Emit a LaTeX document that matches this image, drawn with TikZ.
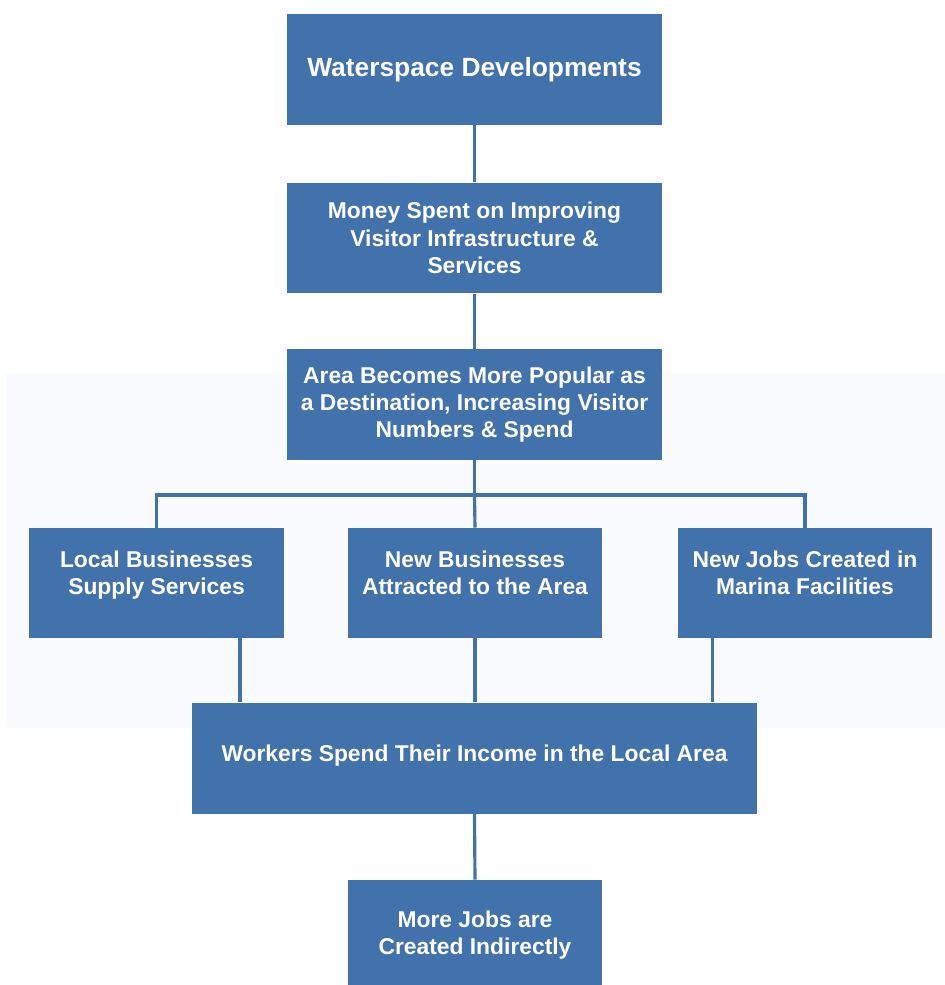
\documentclass[tikz,border=0pt]{standalone}
\usepackage{fontspec}
\setmainfont{Liberation Sans}
\usepackage{xcolor}
\usepackage{tikz}
\usetikzlibrary{positioning, calc}

\definecolor{boxblue}{RGB}{66,114,172}
\definecolor{tintbg}{RGB}{249,251,254}

\begin{document}
\begin{tikzpicture}[
  x=0.02cm, y=-0.02cm,
  stagebox/.style={fill=boxblue, text=white, align=center, inner sep=0pt,
    font=\fontsize{13}{15.6}\selectfont\bfseries, minimum height=2.22cm},
  effectbox/.style={stagebox, minimum width=5.08cm, minimum height=2.2cm, text depth=12pt},
  link/.style={draw=boxblue, line width=1.8pt},
]
  \useasboundingbox (0,0) rectangle (945,985);

  % ── Faint backdrop ──
  \fill[tintbg] (6,372) rectangle (945,728);

  % ── Top chain ──
  \node[stagebox, minimum width=7.5cm, font=\fontsize{15}{18}\selectfont\bfseries] (water) at (474.5,69.5) {Waterspace Developments};
  \node[stagebox, minimum width=7.5cm] (money) at (474.5,238) {Money Spent on Improving\\Visitor Infrastructure \&\\Services};
  \node[stagebox, minimum width=7.5cm] (area) at (474.5,404.5) {Area Becomes More Popular as\\a Destination, Increasing Visitor\\Numbers \& Spend};

  % ── Three effects ──
  \node[effectbox, minimum width=5.1cm] (local) at (156.5,583) {Local Businesses\\Supply Services};
  \node[effectbox] (business) at (475,583) {New Businesses\\Attracted to the Area};
  \node[effectbox] (jobs) at (805,583) {New Jobs Created in\\Marina Facilities};

  % ── Bottom chain ──
  \node[stagebox, minimum width=11.3cm, text depth=6pt] (workers) at (474.5,758) {Workers Spend Their Income in the Local Area};
  \node[stagebox, minimum width=5.08cm, minimum height=2.2cm] (more) at (475,935) {More Jobs are\\Created Indirectly};

  % ── Connectors ──
  \coordinate (bar) at (474.5,495);
  \coordinate (lout) at (240,670);
  \coordinate (jout) at (712.5,670);
  \draw[link] (water.south) -- (money.north);
  \draw[link] (money.south) -- (area.north);
  \draw[link] (area.south) -- (bar);
  \draw[link] (local.north) |- (bar) -| (jobs.north);
  \draw[link] (bar) -- (business.north);
  \draw[link] (lout |- local.south) -- (lout |- workers.north);
  \draw[link] (business.south) -- (business.south |- workers.north);
  \draw[link] (jout |- jobs.south) -- (jout |- workers.north);
  \draw[link] (workers.south) -- (more.north);

\end{tikzpicture}
\end{document}
